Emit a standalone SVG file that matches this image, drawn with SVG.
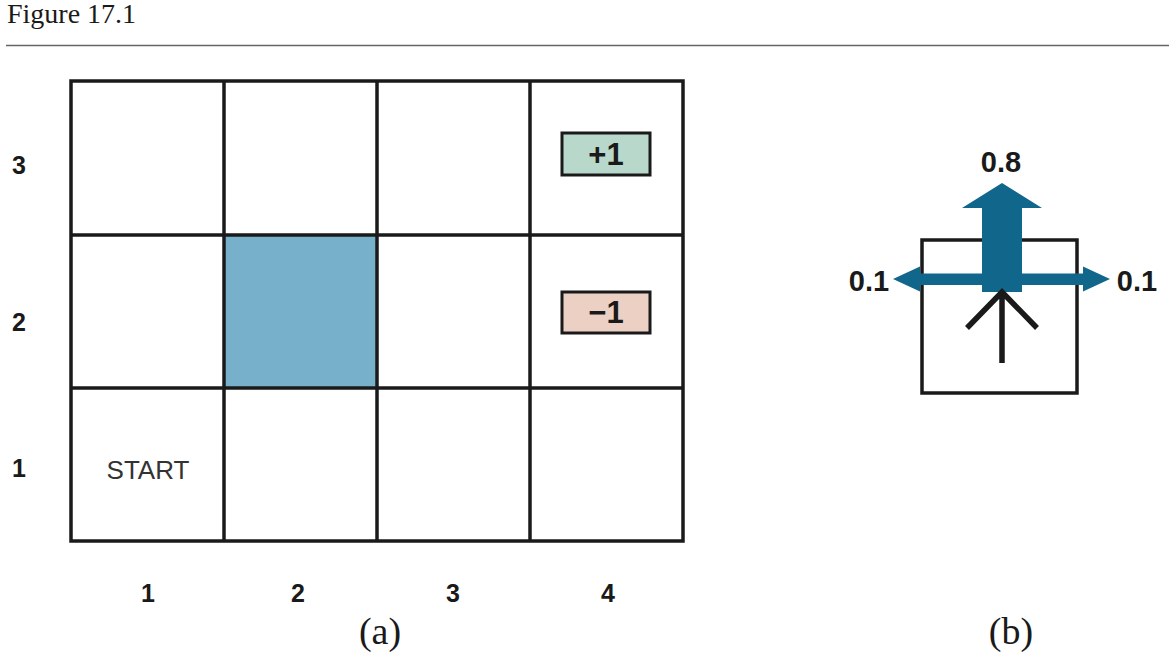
<svg xmlns="http://www.w3.org/2000/svg" width="1169" height="665" viewBox="0 0 1169 665">
<style>
.ser{font-family:"Liberation Serif","DejaVu Serif",serif;fill:#1a1a1a}
.lab{font-family:"Liberation Sans",Arial,sans-serif;font-weight:bold;fill:#1a1a1a;font-size:25px;text-anchor:middle}
.big{font-size:31px}
.prob{font-size:29px}
.grid{fill:none;stroke:#1a1a1a;stroke-width:3.5}
.blue{fill:#10668b}
</style>
<rect width="1169" height="665" fill="#ffffff"/>
<text class="ser" x="7" y="23" style="font-size:28px">Figure 17.1</text>
<line x1="6" y1="45.5" x2="1169" y2="45.5" stroke="#666" stroke-width="1.5"/>

<g id="grid">
<rect x="224" y="235" width="153" height="153" fill="#77b0cb"/>
<rect class="grid" x="71" y="81" width="612" height="460"/>
<line class="grid" x1="224" y1="81" x2="224" y2="541"/>
<line class="grid" x1="377" y1="81" x2="377" y2="541"/>
<line class="grid" x1="530" y1="81" x2="530" y2="541"/>
<line class="grid" x1="71" y1="235" x2="683" y2="235"/>
<line class="grid" x1="71" y1="388" x2="683" y2="388"/>
</g>
<g id="plus1">
<rect x="562" y="133" width="88" height="42" fill="#b9d8cc" stroke="#1a1a1a" stroke-width="3"/>
<text class="lab big" x="606" y="165">+1</text>
</g>
<g id="minus1">
<rect x="562" y="292" width="88" height="41" fill="#ecd0c3" stroke="#1a1a1a" stroke-width="3"/>
<text class="lab big" x="606" y="323">−1</text>
</g>
<g id="start">
<text x="148" y="479" font-family="Liberation Sans,Arial,sans-serif" style="font-size:26px" fill="#333" text-anchor="middle">START</text>
</g>
<g id="row-labels">
<text class="lab" x="19" y="174">3</text>
<text class="lab" x="19" y="331">2</text>
<text class="lab" x="19" y="477">1</text>
</g>
<g id="col-labels">
<text class="lab" x="148" y="602">1</text>
<text class="lab" x="298" y="602">2</text>
<text class="lab" x="453" y="602">3</text>
<text class="lab" x="608" y="602">4</text>
</g>
<text class="ser" x="380" y="644" style="font-size:38px" text-anchor="middle">(a)</text>
<text class="ser" x="1011" y="644" style="font-size:38px" text-anchor="middle">(b)</text>

<g id="cell-b">
<rect x="922" y="240" width="155" height="153" fill="none" stroke="#1a1a1a" stroke-width="3.5"/>
</g>
<g id="connectors">
<polygon class="blue" points="893,279 920,266.5 920,273.5 1083,273.5 1083,266.5 1110,279 1083,291.5 1083,285 920,285 920,291.5"/>
<polygon class="blue" points="982,292 982,208 962,208 1002,183 1042,208 1022,208 1022,292"/>
<path d="M1002,363 V292 M967,328 L1002,292 L1037,328" fill="none" stroke="#1a1a1a" stroke-width="5.5"/>
</g>
<g id="prob-labels">
<text class="lab prob" x="1001" y="172">0.8</text>
<text class="lab prob" x="869" y="291">0.1</text>
<text class="lab prob" x="1137" y="291">0.1</text>
</g>
</svg>
